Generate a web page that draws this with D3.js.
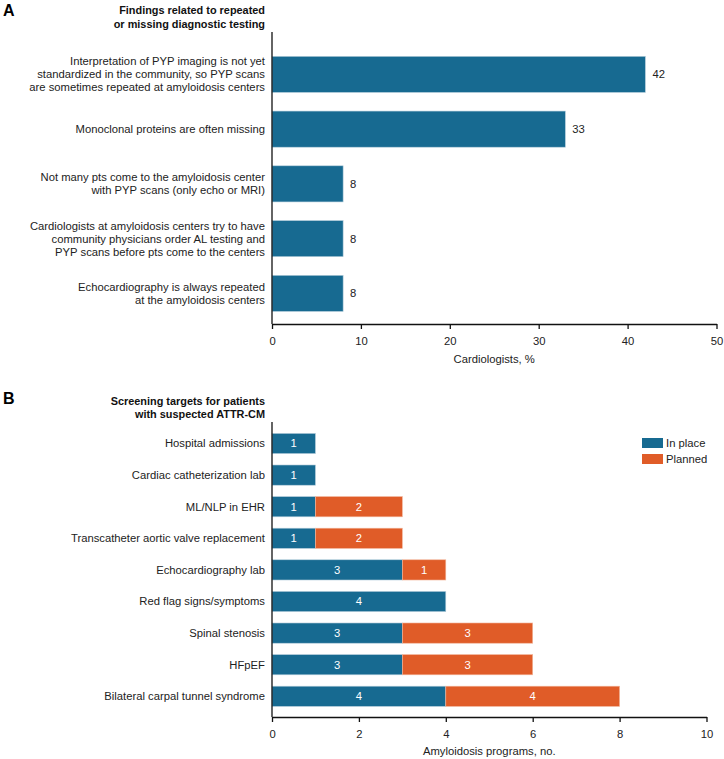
<!DOCTYPE html>
<html>
<head>
<meta charset="utf-8">
<script src="https://cdn.jsdelivr.net/npm/d3@7"></script>
<style>
  html, body { margin: 0; padding: 0; background: #fff; }
  svg { display: block; font-family: "Liberation Sans", Arial, sans-serif; }
</style>
</head>
<body>
<svg id="chart" width="724" height="759"></svg>
<script>
// ---- Panel A data ----
const findingsLabels = [
  ["Interpretation of PYP imaging is not yet", "standardized in the community, so PYP scans", "are sometimes repeated at amyloidosis centers"],
  ["Monoclonal proteins are often missing"],
  ["Not many pts come to the amyloidosis center", "with PYP scans (only echo or MRI)"],
  ["Cardiologists at amyloidosis centers try to have", "community physicians order AL testing and", "PYP scans before pts come to the centers"],
  ["Echocardiography is always repeated", "at the amyloidosis centers"]
];
const findingsValues = [42, 33, 8, 8, 8];
const findingsTicks = [0, 10, 20, 30, 40, 50];

// ---- Panel B data ----
const targetCategories = [
  "Hospital admissions",
  "Cardiac catheterization lab",
  "ML/NLP in EHR",
  "Transcatheter aortic valve replacement",
  "Echocardiography lab",
  "Red flag signs/symptoms",
  "Spinal stenosis",
  "HFpEF",
  "Bilateral carpal tunnel syndrome"
];
const inPlace = [1, 1, 1, 1, 3, 4, 3, 3, 4];
const planned = [0, 0, 2, 2, 1, 0, 3, 3, 4];
const seriesNames = ["In place", "Planned"];
const targetTicks = [0, 2, 4, 6, 8, 10];

const BLUE = "#176a91";
const ORANGE = "#e05c28";
const FS = 11.25;
const svg = d3.select("#chart");

// ================= Panel A =================
{
  const x = d3.scaleLinear().domain([0, 50]).range([272, 716.5]);
  const y = d3.scaleBand().domain(d3.range(findingsValues.length)).range([47, 320.75]).paddingInner(0.34).paddingOuter(0.17);
  const g = svg.append("g");

  svg.append("text").attr("x", 3).attr("y", 16).attr("font-size", 16).attr("font-weight", "bold").text("A");
  const title = g.append("text").attr("text-anchor", "end").attr("font-size", 10.9).attr("font-weight", "bold").attr("fill", "#111");
  title.append("tspan").attr("x", 265).attr("y", 14).text("Findings related to repeated");
  title.append("tspan").attr("x", 265).attr("y", 28).text("or missing diagnostic testing");

  g.selectAll("rect.bar").data(findingsValues).join("rect")
    .attr("class", "bar")
    .attr("x", x(0)).attr("y", (d, i) => y(i))
    .attr("width", d => x(d) - x(0)).attr("height", y.bandwidth())
    .attr("fill", BLUE).attr("stroke", "#b8d0dd").attr("stroke-width", 0.6);

  g.selectAll("text.val").data(findingsValues).join("text")
    .attr("class", "val")
    .attr("x", d => x(d) + 7).attr("y", (d, i) => y(i) + y.bandwidth() / 2)
    .attr("dy", "0.35em").attr("font-size", FS).attr("fill", "#222").text(d => d);

  findingsLabels.forEach((lines, i) => {
    const cy = y(i) + y.bandwidth() / 2;
    const lh = 13;
    const t = g.append("text").attr("text-anchor", "end").attr("font-size", FS).attr("fill", "#222");
    lines.forEach((ln, j) => {
      t.append("tspan").attr("x", 265).attr("y", cy + (j - (lines.length - 1) / 2) * lh).attr("dy", "0.35em").text(ln);
    });
  });

  const ax = g.append("g").attr("transform", "translate(0,324)")
    .call(d3.axisBottom(x).tickValues(findingsTicks).tickSize(5).tickSizeOuter(0).tickPadding(8));
  ax.select(".domain").attr("stroke", "#111").attr("stroke-width", 1.3);
  ax.selectAll(".tick line").attr("stroke", "#111").attr("stroke-width", 1.3);
  ax.selectAll(".tick text").attr("font-size", FS).attr("fill", "#222").attr("font-family", "Liberation Sans, Arial, sans-serif");
  g.append("line").attr("x1", x(0)).attr("x2", x(0)).attr("y1", 32).attr("y2", 324).attr("stroke", "#111").attr("stroke-width", 1.3);
  g.append("text").attr("x", (x(0) + x(50)) / 2).attr("y", 363).attr("text-anchor", "middle").attr("font-size", FS).attr("fill", "#222").text("Cardiologists, %");
}

// ================= Panel B =================
{
  const x = d3.scaleLinear().domain([0, 10]).range([272, 706.5]);
  const y = d3.scaleBand().domain(targetCategories).range([427.7, 712.1]).paddingInner(0.36).paddingOuter(0.18);
  const g = svg.append("g");

  svg.append("text").attr("x", 3).attr("y", 404).attr("font-size", 16).attr("font-weight", "bold").text("B");
  const title = g.append("text").attr("text-anchor", "end").attr("font-size", 10.9).attr("font-weight", "bold").attr("fill", "#111");
  title.append("tspan").attr("x", 265).attr("y", 405).text("Screening targets for patients");
  title.append("tspan").attr("x", 265).attr("y", 418).text("with suspected ATTR-CM");

  const rows = targetCategories.map((c, i) => ({ cat: c, a: inPlace[i], b: planned[i] }));
  const stack = d3.stack().keys(["a", "b"])(rows);
  const colors = [BLUE, ORANGE];

  stack.forEach((layer, k) => {
    const lg = g.append("g");
    lg.selectAll("rect").data(layer.filter(d => d[1] > d[0])).join("rect")
      .attr("x", d => x(d[0])).attr("y", d => y(d.data.cat))
      .attr("width", d => x(d[1]) - x(d[0])).attr("height", y.bandwidth())
      .attr("fill", colors[k]).attr("stroke", k === 0 ? "#b8d0dd" : "#f2b79c").attr("stroke-width", 0.6);
    lg.selectAll("text").data(layer.filter(d => d[1] > d[0])).join("text")
      .attr("x", d => (x(d[0]) + x(d[1])) / 2).attr("y", d => y(d.data.cat) + y.bandwidth() / 2)
      .attr("dy", "0.35em").attr("text-anchor", "middle").attr("font-size", FS).attr("fill", "#fff")
      .text(d => d[1] - d[0]);
  });

  g.selectAll("text.cat").data(targetCategories).join("text")
    .attr("class", "cat")
    .attr("x", 265).attr("y", d => y(d) + y.bandwidth() / 2).attr("dy", "0.35em")
    .attr("text-anchor", "end").attr("font-size", FS).attr("fill", "#222").text(d => d);

  const ax = g.append("g").attr("transform", "translate(0,717)")
    .call(d3.axisBottom(x).tickValues(targetTicks).tickSize(5).tickSizeOuter(0).tickPadding(8));
  ax.select(".domain").attr("stroke", "#111").attr("stroke-width", 1.3);
  ax.selectAll(".tick line").attr("stroke", "#111").attr("stroke-width", 1.3);
  ax.selectAll(".tick text").attr("font-size", FS).attr("fill", "#222").attr("font-family", "Liberation Sans, Arial, sans-serif");
  g.append("line").attr("x1", x(0)).attr("x2", x(0)).attr("y1", 422).attr("y2", 717).attr("stroke", "#111").attr("stroke-width", 1.3);
  g.append("text").attr("x", (x(0) + x(10)) / 2).attr("y", 755).attr("text-anchor", "middle").attr("font-size", FS).attr("fill", "#222").text("Amyloidosis programs, no.");

  // legend
  const leg = g.append("g");
  seriesNames.forEach((n, i) => {
    leg.append("rect").attr("x", 642).attr("y", 438 + i * 16).attr("width", 21).attr("height", 10).attr("fill", colors[i]);
    leg.append("text").attr("x", 666).attr("y", 443 + i * 16).attr("dy", "0.35em").attr("font-size", FS).attr("fill", "#222").text(n);
  });
}
</script>
</body>
</html>
